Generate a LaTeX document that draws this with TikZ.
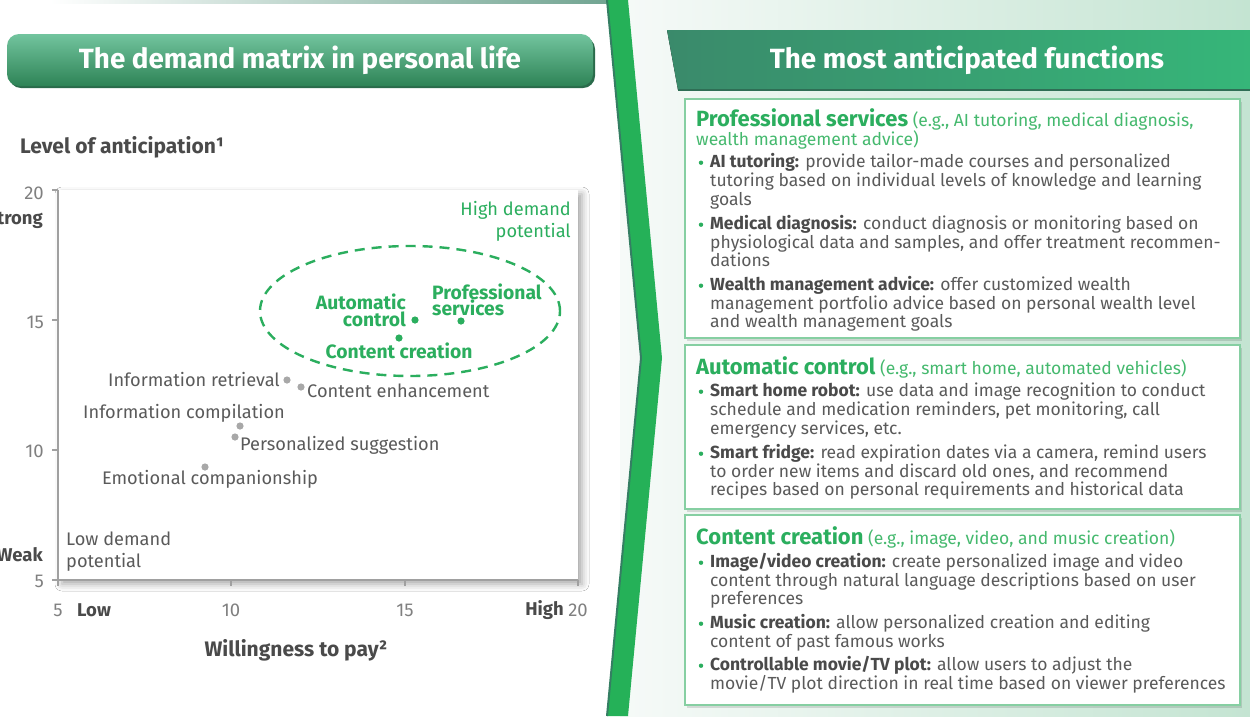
\documentclass[tikz,border=0pt]{standalone}
\usepackage{fontspec}
\setmainfont{Fira Sans}
\usetikzlibrary{shadows.blur}
\definecolor{gr}{HTML}{2BAE5E}
\definecolor{grl}{HTML}{45B96E}
\definecolor{txt}{HTML}{5A5A5A}
\definecolor{txtb}{HTML}{4A4A4A}
\definecolor{tickc}{HTML}{808080}
\definecolor{dotg}{HTML}{A8A8A8}
\definecolor{axisc}{HTML}{A0A0A0}
\definecolor{stripe}{HTML}{25B158}
\definecolor{stripeD}{HTML}{357E63}
\definecolor{bgL}{HTML}{F6FAF8}
\definecolor{bgR}{HTML}{C4E4D2}
\definecolor{boxg}{HTML}{86CFA2}
\definecolor{banTop}{HTML}{72C49E}
\definecolor{banBot}{HTML}{2E8356}
\definecolor{banSh}{HTML}{2A6B4B}
\definecolor{rbanL}{HTML}{3A8A6B}
\definecolor{rbanR}{HTML}{36B679}
\definecolor{rbanD}{HTML}{2F6E55}
\newcommand\bh[1]{{\bfseries\color{txtb}#1}}
\begin{document}
\begin{tikzpicture}[x=1pt,y=-1pt,
 body/.style={font=\fontsize{17.5}{19}\selectfont, text=txt, anchor=base west, inner sep=0pt},
 hdr/.style={font=\fontsize{17.5}{19}\selectfont, text=grl, anchor=base west, inner sep=0pt},
 lbl/.style={font=\fontsize{18.2}{22}\selectfont, text=txt, inner sep=0pt},
 glbl/.style={font=\fontsize{19.3}{16.5}\selectfont\bfseries, text=gr, inner sep=0pt},
 ticklbl/.style={font=\fontsize{18.5}{20}\selectfont, text=tickc, inner sep=0pt},
 axlbl/.style={font=\fontsize{21}{23}\selectfont\bfseries, text=txtb, inner sep=0pt},
 axword/.style={font=\fontsize{18.5}{20}\selectfont\bfseries, text=txtb, inner sep=0pt},
 title/.style={font=\fontsize{27.8}{29}\selectfont\bfseries, text=white, inner sep=0pt},
 infobox/.style={draw=boxg, line width=1.3pt, fill=white},
 boxshadow/.style={fill=black, opacity=0.12},
 bdot/.style={fill=gr},
 gdot/.style={fill=dotg},
 greendot/.style={fill=gr},
 axisline/.style={draw=axisc, line width=1.2pt}
]
\useasboundingbox (0,0) rectangle (1250,716);
\clip (0,0) rectangle (1250,716);
\fill[white] (0,0) rectangle (1250,716);
% right background
\fill[left color=bgL, right color=bgR] (620,0) rectangle (1250,716);
% top thin bar on left
\fill[left color=white, right color=stripeD!70] (50,0) rectangle (607,3);
% stripe
\fill[stripe] (607,0) -- (628,0) -- (662,358) -- (628,716) -- (607,716) -- (641,358) -- cycle;
\draw[stripeD, line width=2pt] (607,0) -- (641,358) -- (607,716);

% left banner
\fill[banSh, rounded corners=12pt] (9,37) rectangle (595,88);
\shade[top color=banTop, bottom color=banBot, rounded corners=12pt] (7,34) rectangle (593,86);
\node[title] (t1) at (300,60) {The demand matrix in personal life};

% right banner
\fill[left color=rbanL, right color=rbanR] (667,30) -- (1250,30) -- (1250,90) -- (678,90) -- cycle;
\draw[rbanD, line width=1.5pt] (678,90) -- (1250,90);
\node[title] (t2) at (967,60) {The most anticipated functions};

% ---------------- chart ----------------
\node[axlbl, anchor=west] (ylab) at (20,147) {Level of anticipation¹};
\fill[white, blur shadow={shadow xshift=4pt, shadow yshift=-4pt, shadow blur radius=7pt, shadow opacity=35}] (58,190) rectangle (578,580);
\draw[axisline] (58,190) -- (58,580) -- (578,580);
\foreach \yy in {190,320,450,580} \draw[axisline] (52,\yy) -- (58,\yy);
\foreach \xx in {58,231,405,578} \draw[axisline] (\xx,580) -- (\xx,586);
\node[ticklbl, anchor=east] (y20) at (44,193) {20};
\node[ticklbl, anchor=east] (y15) at (44,322) {15};
\node[ticklbl, anchor=east] (y10) at (44,451) {10};
\node[ticklbl, anchor=east] (y5) at (44,581) {5};
\node[ticklbl] (x5) at (58,610) {5};
\node[ticklbl] (x10) at (231,610) {10};
\node[ticklbl] (x15) at (405,610) {15};
\node[ticklbl] (x20) at (578,610) {20};
\node[axword, anchor=west] (low) at (77,610) {Low};
\node[axword, anchor=east] (high) at (564,610) {High};
\node[axword, anchor=east] (strong) at (43,220) {Strong};
\node[axword, anchor=east] (weak) at (43,555) {Weak};
\node[axlbl] (xlab) at (296,650) {Willingness to pay²};

\node[lbl, text=gr, align=right, anchor=north east] (hdp) at (571,201) {High demand\\potential};
\node[lbl, align=left, anchor=north west] (ldp) at (66,532) {Low demand\\potential};

\draw[gr, line width=2.4pt, dash pattern=on 10pt off 7pt] (410,311) ellipse [x radius=150pt, y radius=65pt];

% grey points
\fill[gdot] (287,380) circle (3.6pt);
\fill[gdot] (301,387) circle (3.6pt);
\fill[gdot] (240,426) circle (3.6pt);
\fill[gdot] (235,437) circle (3.6pt);
\fill[gdot] (205,467) circle (3.6pt);
\node[lbl, anchor=east] (ir) at (280,380) {Information retrieval};
\node[lbl, anchor=west] (cen) at (307,391) {Content enhancement};
\node[lbl, anchor=east] (ic) at (285,413) {Information compilation};
\node[lbl, anchor=west] (psg) at (240,445) {Personalized suggestion};
\node[lbl] (ec) at (210,479) {Emotional companionship};

% green points
\fill[greendot] (415,320) circle (3.6pt);
\fill[greendot] (461,321) circle (3.6pt);
\fill[greendot] (399,338) circle (3.6pt);
\node[glbl, align=right, anchor=east] (ac) at (406,310.5) {Automatic\\control};
\node[glbl, align=left, anchor=west] (ps) at (432,300) {Professional\\services};
\node[glbl] (cc) at (399,350.5) {Content creation};

% ---------------- right boxes ----------------
\fill[boxshadow] (687,102) rectangle (1242,341);
\draw[infobox] (685,99) rectangle (1240,338);
\fill[boxshadow] (687,348) rectangle (1242,512);
\draw[infobox] (685,345) rectangle (1240,509);
\fill[boxshadow] (687,518) rectangle (1242,708);
\draw[infobox] (685,515) rectangle (1240,705);

% box 1
\node[hdr] (h1) at (696,126) {{\fontsize{22}{22}\selectfont\bfseries\color{gr}Professional services} (e.g., AI tutoring, medical diagnosis,};
\node[hdr] (h1b) at (696,145) {wealth management advice)};
\fill[bdot] (701,162.7) circle (2.2pt);
\node[body] (b11a) at (710,167.5) {\bh{AI tutoring:} provide tailor-made courses and personalized};
\node[body] (b11b) at (710,186.3) {tutoring based on individual levels of knowledge and learning};
\node[body] (b11c) at (710,205) {goals};
\fill[bdot] (701,224.7) circle (2.2pt);
\node[body] (b12a) at (710,229.5) {\bh{Medical diagnosis:} conduct diagnosis or monitoring based on};
\node[body] (b12b) at (710,248) {physiological data and samples, and offer treatment recommen-};
\node[body] (b12c) at (710,266.5) {dations};
\fill[bdot] (701,285.7) circle (2.2pt);
\node[body] (b13a) at (710,290.5) {\bh{Wealth management advice:} offer customized wealth};
\node[body] (b13b) at (710,309) {management portfolio advice based on personal wealth level};
\node[body] (b13c) at (710,327.5) {and wealth management goals};

% box 2
\node[hdr] (h2) at (696,374.5) {{\fontsize{22}{22}\selectfont\bfseries\color{gr}Automatic control} (e.g., smart home, automated vehicles)};
\fill[bdot] (701,391.7) circle (2.2pt);
\node[body] (b21a) at (710,396.5) {\bh{Smart home robot:} use data and image recognition to conduct};
\node[body] (b21b) at (710,415) {schedule and medication reminders, pet monitoring, call};
\node[body] (b21c) at (710,434) {emergency services, etc.};
\fill[bdot] (701,453.7) circle (2.2pt);
\node[body] (b22a) at (710,458.5) {\bh{Smart fridge:} read expiration dates via a camera, remind users};
\node[body] (b22b) at (710,477) {to order new items and discard old ones, and recommend};
\node[body] (b22c) at (710,495.5) {recipes based on personal requirements and historical data};

% box 3
\node[hdr] (h3) at (696,544.5) {{\fontsize{22}{22}\selectfont\bfseries\color{gr}Content creation} (e.g., image, video, and music creation)};
\fill[bdot] (701,562.7) circle (2.2pt);
\node[body] (b31a) at (710,567.5) {\bh{Image/video creation:} create personalized image and video};
\node[body] (b31b) at (710,586) {content through natural language descriptions based on user};
\node[body] (b31c) at (710,604.5) {preferences};
\fill[bdot] (701,623.7) circle (2.2pt);
\node[body] (b32a) at (710,628.5) {\bh{Music creation:} allow personalized creation and editing};
\node[body] (b32b) at (710,647) {content of past famous works};
\fill[bdot] (701,665.7) circle (2.2pt);
\node[body] (b33a) at (710,670.5) {\bh{Controllable movie/TV plot:} allow users to adjust the};
\node[body] (b33b) at (710,689) {movie/TV plot direction in real time based on viewer preferences};
\end{tikzpicture}
\end{document}
